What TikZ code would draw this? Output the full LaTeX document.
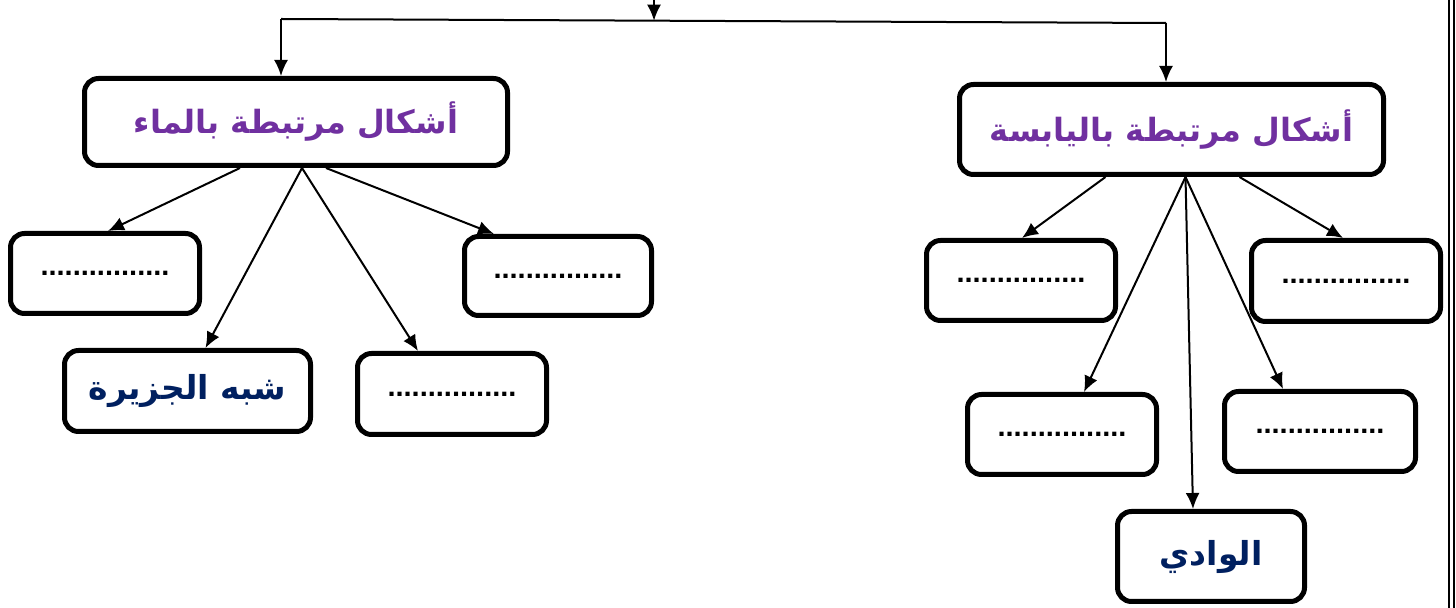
\documentclass[tikz,border=0pt]{standalone}
\usepackage{fontspec}
\setmainfont{Liberation Sans}
\newfontfamily\arabicfont[Script=Arabic]{DejaVu Sans}
\TeXXeTstate=1
\usetikzlibrary{arrows.meta}
\definecolor{hdrpurple}{HTML}{7030A0}
\definecolor{navy}{HTML}{002060}
\tikzset{
  box/.style={draw=black, line width=2.5pt, rounded corners=7pt, fill=white, inner sep=0pt},
  hdr/.style={box, font=\arabicfont\bfseries\fontsize{16}{19}\selectfont, text=hdrpurple},
  leaf/.style={box, font=\arabicfont\bfseries\fontsize{16.5}{19}\selectfont, text=navy},
  dotbox/.style={box, font=\bfseries\fontsize{14.5}{17}\selectfont},
  conn/.style={line width=1pt, -{Latex[length=8pt,width=7pt]}},
  plain/.style={line width=1pt}
}
\begin{document}
\begin{tikzpicture}[x=0.5pt,y=-0.5pt]
\useasboundingbox (0,0) rectangle (1456,608);
\fill[white] (0,0) rectangle (1456,608);
% right page border
\draw[line width=0.8pt] (1449,0) -- (1449,608);
\draw[line width=0.8pt] (1454,0) -- (1454,608);
% main boxes
\node[hdr, minimum width=211.5pt, minimum height=43.5pt] (L) at (296,122) {\beginR أشكال مرتبطة بالماء\endR};
\node[hdr, minimum width=212pt, minimum height=45pt] (R) at (1171.5,129.5) {\beginR أشكال مرتبطة باليابسة\endR};
% left children
\node[dotbox, minimum width=94.5pt, minimum height=40pt] (A) at (105,273.5) {................};
\node[dotbox, minimum width=93.5pt, minimum height=39.5pt] (B) at (558,276) {................};
\node[leaf, minimum width=123pt, minimum height=40.5pt] (C) at (187.5,391) {\beginR شبه الجزيرة\endR};
\node[dotbox, minimum width=94.5pt, minimum height=40.5pt] (D) at (452,394) {................};
% right children
\node[dotbox, minimum width=94.5pt, minimum height=40pt] (E) at (1021,280.5) {................};
\node[dotbox, minimum width=94.5pt, minimum height=40.5pt] (F) at (1346,281) {................};
\node[dotbox, minimum width=94.5pt, minimum height=40pt] (G) at (1062,434.5) {................};
\node[dotbox, minimum width=95.5pt, minimum height=40pt] (H) at (1320,431.5) {................};
\node[leaf, minimum width=93.5pt, minimum height=45pt] (I) at (1211,556.5) {\beginR الوادي\endR};
% top structure
\coordinate (top) at (654,0);
\coordinate (hl) at (281,19);
\coordinate (hr) at (1166,23);
\coordinate (j) at (654,20.7);
\draw[plain] (hl) -- (hr);
\draw[conn] (top) -- (j);
\draw[conn] (hl) -- (L.north -| hl);
\draw[conn] (hr) -- (R.north -| hr);
% left connectors
\draw[conn] ([xshift=-28pt]L.south) -- ([xshift=1.5pt]A.north);
\draw[conn] ([xshift=3pt]L.south) -- ([xshift=9pt]C.north);
\draw[conn] ([xshift=3pt]L.south) -- ([xshift=-17pt]D.north);
\draw[conn] ([xshift=15pt]L.south) -- ([xshift=-32pt]B.north);
% right connectors
\draw[conn] ([xshift=-33pt]R.south) -- ([xshift=0.5pt]E.north);
\draw[conn] ([xshift=7pt]R.south) -- ([xshift=11pt]G.north);
\draw[conn] ([xshift=7pt]R.south) -- ([xshift=-9pt]I.north);
\draw[conn] ([xshift=7pt]R.south) -- ([xshift=-18.5pt]H.north);
\draw[conn] ([xshift=34pt]R.south) -- ([xshift=-1.5pt]F.north);
\end{tikzpicture}
\end{document}
